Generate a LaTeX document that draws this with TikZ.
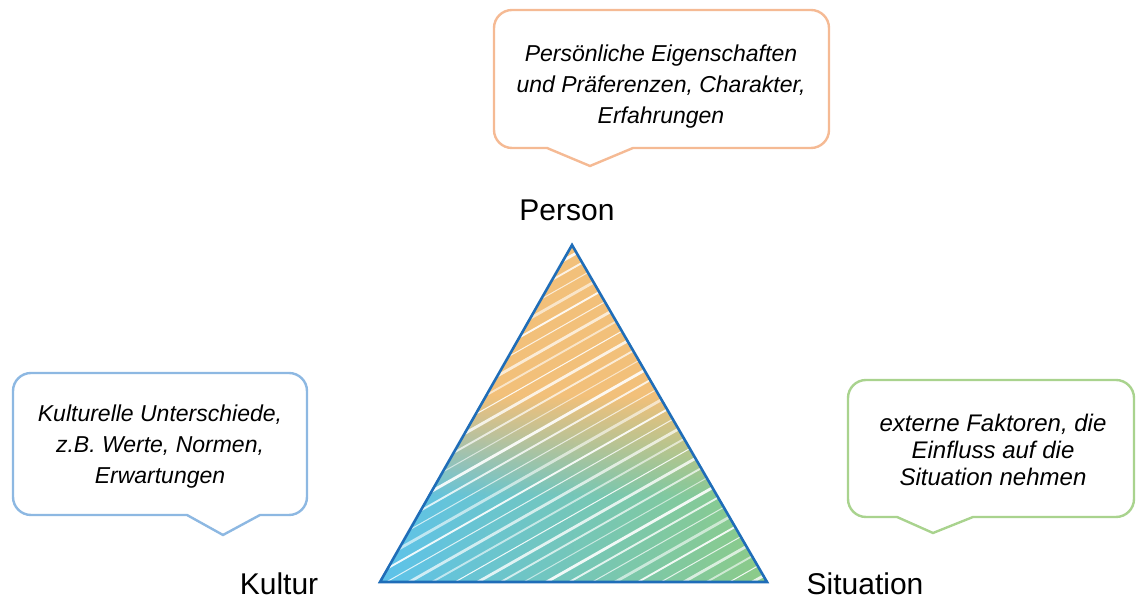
\documentclass[tikz,border=0pt]{standalone}
\usepackage{fontspec}
\setmainfont{Liberation Sans}
\usetikzlibrary{fadings}
\definecolor{cOrange}{HTML}{F5BA94}
\definecolor{cBlueL}{HTML}{8DB8E2}
\definecolor{cGreenL}{HTML}{A9D38E}
\definecolor{triEdge}{HTML}{1F6DB8}
\definecolor{fOrange}{HTML}{F2C07A}
\definecolor{fBlue}{HTML}{5CC2EC}
\definecolor{fTeal}{HTML}{2EAE86}
\definecolor{fGreen}{HTML}{8DCB86}
\tikzfading[name=ofade, top color=transparent!0, bottom color=transparent!100]
\begin{document}
\begin{tikzpicture}[x=1pt,y=1pt,
  callout/.style={line width=2.4pt, rounded corners=18pt, fill=white},
  calltext/.style={font=\fontsize{23}{31}\selectfont\itshape, align=center, text=black},
  lbl/.style={font=\fontsize{30}{34}\selectfont, text=black}]
\useasboundingbox (0,0) rectangle (1136,601);
% callouts
\draw[callout, draw=cOrange] (633,453) -- (829,453) -- (829,591) -- (494,591) -- (494,453) [sharp corners] -- (547,453) -- (590,435) -- cycle;
\draw[callout, draw=cBlueL] (260,86) -- (307,86) -- (307,228) -- (13,228) -- (13,86) [sharp corners] -- (187,86) -- (223,66) -- cycle;
\draw[callout, draw=cGreenL] (973,84) -- (1134,84) -- (1134,221) -- (848,221) -- (848,84) [sharp corners] -- (897,84) -- (933,68) -- cycle;
\node[calltext] (tP) at (661,514) {Persönliche Eigenschaften\\und Präferenzen, Charakter,\\Erfahrungen};
\node[calltext] (tK) at (160,154) {Kulturelle Unterschiede,\\z.B. Werte, Normen,\\Erwartungen};
\node[calltext, font=\fontsize{24}{27}\selectfont\itshape] (tS) at (993,151) {externe Faktoren, die\\Einfluss auf die\\Situation nehmen};
% triangle
\coordinate (A) at (572,356);
\coordinate (B) at (380,19);
\coordinate (C) at (767,19);
\begin{scope}
  \clip (A) -- (B) -- (C) -- cycle;
  \shade[left color=fBlue, middle color=fTeal, right color=fGreen] (375,15) rectangle (772,360);
  \fill[fOrange] (360,205) rectangle (790,370);
  \fill[fOrange, path fading=ofade] (360,105) rectangle (790,205.5);
  \foreach \k in {0,...,44} {
    \pgfmathsetmacro{\w}{1.0+mod(\k,3)*0.9}
    \pgfmathsetmacro{\o}{0.6+mod(\k,4)*0.1}
    \draw[white, line width=\w pt, opacity=\o, line cap=round] (360,{-230+\k*13}) -- (800,{-230+\k*13+250});
  }
\end{scope}
\draw[triEdge, line width=2.6pt, line join=miter] (A) -- (B) -- (C) -- cycle;
% labels
\node[lbl] (lP) at (567,391) {Person};
\node[lbl] (lK) at (279,17) {Kultur};
\node[lbl] (lS) at (865,17) {Situation};
\end{tikzpicture}
\end{document}
